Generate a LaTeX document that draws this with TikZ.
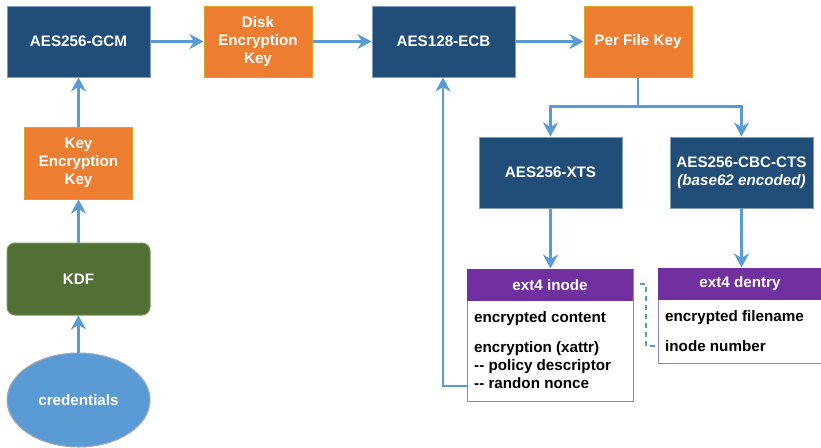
\documentclass[tikz,border=0pt]{standalone}
\usepackage{fontspec}
\setmainfont{Liberation Sans}
\usetikzlibrary{arrows.meta,shapes.geometric}
\definecolor{navy}{HTML}{214E78}
\definecolor{navyedge}{HTML}{7F9CBB}
\definecolor{keyorange}{HTML}{ED7D31}
\definecolor{keyedge}{HTML}{D9A326}
\definecolor{kdfgreen}{HTML}{526F35}
\definecolor{kdfedge}{HTML}{6E9A4B}
\definecolor{credblue}{HTML}{5B9BD5}
\definecolor{credrim}{HTML}{A0A8B0}
\definecolor{flow}{HTML}{5B9BD5}
\definecolor{extpurple}{HTML}{7030A0}
\definecolor{extedge}{HTML}{9B7DBE}
\begin{document}
\begin{tikzpicture}[x=1pt,y=-1pt,
  font=\bfseries\fontsize{15.2}{18}\selectfont,
  cipher/.style={rectangle, draw=navyedge, line width=1pt, fill=navy, text=white,
    minimum width=143pt, minimum height=71pt, inner sep=0pt, align=center},
  keybox/.style={rectangle, draw=keyedge, line width=1pt, fill=keyorange, text=white,
    minimum width=108pt, minimum height=71pt, inner sep=0pt, align=center},
  kdfbox/.style={rectangle, rounded corners=8pt, draw=kdfedge, line width=1pt, fill=kdfgreen,
    text=white, minimum width=143pt, minimum height=72pt, inner sep=0pt},
  credshape/.style={ellipse, draw=credrim, line width=1pt, fill=credblue, text=white,
    minimum width=143pt, minimum height=94pt, inner sep=0pt},
  recbox/.style={rectangle, draw=extedge, line width=1pt, fill=white, inner sep=0pt},
  rechead/.style={rectangle, fill=extpurple, text=white, inner sep=0pt},
  field/.style={anchor=base west, inner sep=0pt, text=black},
  flowline/.style={draw=flow, line width=2.8pt,
    -{Stealth[length=14pt,width=15pt,inset=4.5pt]}},
  linkline/.style={draw=flow, line width=2pt, dash pattern=on 5pt off 4pt}
]
\useasboundingbox (0,0) rectangle (821,447);

% key derivation column
\node[cipher] (gcm) at (78.5,41.5) {AES256-GCM};
\node[keybox, minimum height=72pt] (kek) at (78.5,163) {Key\\Encryption\\Key};
\node[kdfbox] (kdf) at (78.5,279) {KDF};
\node[credshape] (cred) at (78.5,400) {credentials};

% top row
\node[keybox] (dek) at (258,41.5) {Disk\\Encryption\\Key};
\node[cipher] (ecb) at (443.5,41.5) {AES128-ECB};
\node[keybox] (pfk) at (638,41.5) {Per File Key};

% per-file ciphers
\node[cipher] (xts) at (550.5,172.5) {AES256-XTS};
\node[cipher] (cts) at (741.5,172.5) {AES256-CBC-CTS\\\itshape (base62 encoded)};

% ext4 inode record
\node[recbox, minimum width=166pt, minimum height=132pt] (inode) at (550,335) {};
\node[rechead, minimum width=166pt, minimum height=32pt, anchor=north] (inodehead)
  at (inode.north) {ext4 inode};
\node[field] (content) at (474,322) {encrypted content};
\node[field] (xattr) at (474,352.5) {encryption (xattr)};
\node[field] (policy) at (474,370.5) {-{}- policy descriptor};
\node[field] (nonce) at (474,388.5) {-{}- randon nonce};

% ext4 dentry record
\node[recbox, minimum width=164pt, minimum height=95pt] (dentry) at (740,315.5) {};
\node[rechead, minimum width=164pt, minimum height=32pt, anchor=north] (denthead)
  at (dentry.north) {ext4 dentry};
\node[field] (dname) at (665,321) {encrypted filename};
\node[field] (inum) at (665,351.5) {inode number};

% connectors
\draw[flowline] (cred.north) -- (kdf.south);
\draw[flowline] (kdf.north) -- (kek.south);
\draw[flowline] (kek.north) -- (gcm.south);
\draw[flowline] (gcm.east) -- (dek.west);
\draw[flowline] (dek.east) -- (ecb.west);
\draw[flowline] (ecb.east) -- (pfk.west);
\draw[flowline] (pfk.south) -- ++(0,29) -| (xts.north);
\draw[flowline] (pfk.south) -- ++(0,29) -| (cts.north);
\draw[flowline] (xts.south) -- (xts.south |- inodehead.north);
\draw[flowline] (cts.south) -- (cts.south |- denthead.north);
\coordinate (nonceport) at ([yshift=2.5pt]inode.west |- nonce.base);
\draw[flowline] (nonceport) -| ([xshift=-0.5pt]ecb.south);
\coordinate (linkstart) at ([xshift=7pt,yshift=1pt]inodehead.east);
\draw[linkline] (linkstart) -- ++(6,0) |- (dentry.west |- inum);
\end{tikzpicture}
\end{document}
